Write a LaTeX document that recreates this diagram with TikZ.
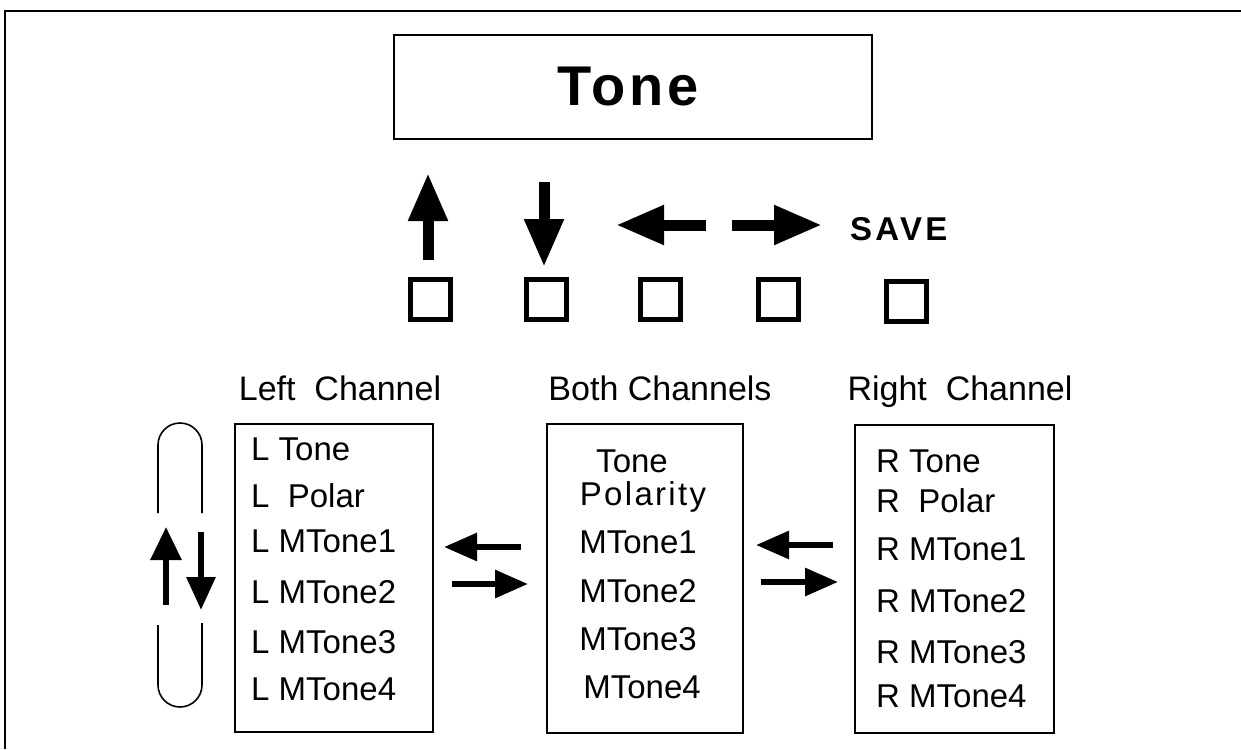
\documentclass[tikz,border=0pt]{standalone}
\usepackage{fontspec}
\setmainfont{Liberation Sans}
\usetikzlibrary{arrows.meta}
\begin{document}
\begin{tikzpicture}[x=1pt,y=-1pt,
  frame/.style={line width=2pt},
  box/.style={draw,line width=1.6pt,inner sep=0pt},
  key/.style={draw,line width=5pt,minimum size=40pt,inner sep=0pt},
  bigarrow/.style={line width=11pt,-{Triangle[width=37pt,length=48pt]}},
  smallarrow/.style={line width=6pt,-{Triangle[width=27pt,length=33pt]}},
  item/.style={anchor=base west,inner sep=0pt,font=\fontsize{33}{39}\selectfont},
  citem/.style={anchor=base,inner sep=0pt,font=\fontsize{33}{39}\selectfont},
  hdr/.style={anchor=base,inner sep=0pt,font=\fontsize{34}{40}\selectfont},
]
\useasboundingbox (0,0) rectangle (1241,749);
\fill[white] (0,0) rectangle (1241,749);
% frame
\coordinate (fbl) at (5,749);
\coordinate (ftl) at (5,11);
\coordinate (ftr) at (1241,11);
\draw[frame] (fbl) -- (ftl) -- (ftr);

% title
\node[box,line width=2.5pt,minimum width=478pt,minimum height=104pt] (title) at (633,87) {};
\node[font=\fontsize{56}{66}\selectfont\bfseries\addfontfeature{LetterSpace=7}] (titletxt) at (628,87) {Tone};

% big arrows
\coordinate (upA) at (428,260); \coordinate (upB) at (428,173);
\coordinate (dnA) at (544,182); \coordinate (dnB) at (544,267);
\coordinate (ltA) at (706,225); \coordinate (ltB) at (616,225);
\coordinate (rtA) at (732,225); \coordinate (rtB) at (822,225);
\draw[bigarrow] (upA) -- (upB);
\draw[bigarrow] (dnA) -- (dnB);
\draw[bigarrow] (ltA) -- (ltB);
\draw[bigarrow] (rtA) -- (rtB);
\node[anchor=base west,inner sep=0pt,font=\fontsize{33}{40}\selectfont\bfseries\addfontfeature{LetterSpace=10}] (save) at (850,240) {SAVE};

% keys
\node[key] (k1) at (430,299) {};
\node[key] (k2) at (546,299) {};
\node[key] (k3) at (660,299) {};
\node[key] (k4) at (778,299) {};
\node[key] (k5) at (906,301) {};

% headers
\node[hdr] (hl) at (340,400) {Left\ \ Channel};
\node[hdr] (hb) at (660,400) {Both Channels};
\node[hdr] (hr) at (960,400) {Right\ \ Channel};

% boxes
\node[box,minimum width=198pt,minimum height=308pt] (lbox) at (334,578) {};
\node[box,minimum width=196pt,minimum height=309pt] (bbox) at (645,578.5) {};
\node[box,minimum width=199pt,minimum height=308pt] (rbox) at (954.5,579) {};

% left items
\node[item] (l1) at (251,460) {L Tone};
\node[item] (l2) at (251,507) {L\ \ Polar};
\node[item] (l3) at (251,552) {L MTone1};
\node[item] (l4) at (251,603) {L MTone2};
\node[item] (l5) at (251,653) {L MTone3};
\node[item] (l6) at (251,700) {L MTone4};

% both items
\node[citem] (b1) at (632,472) {Tone};
\node[citem,font=\fontsize{33}{39}\selectfont\addfontfeature{LetterSpace=7}] (b2) at (643,505) {Polarity};
\node[citem] (b3) at (638,553) {MTone1};
\node[citem] (b4) at (638,602) {MTone2};
\node[citem] (b5) at (638,650) {MTone3};
\node[citem] (b6) at (642,698) {MTone4};

% right items
\node[item] (r1) at (876,472) {R Tone};
\node[item] (r2) at (876,512) {R\ \ Polar};
\node[item] (r3) at (876,560) {R MTone1};
\node[item] (r4) at (876,612) {R MTone2};
\node[item] (r5) at (876,663) {R MTone3};
\node[item] (r6) at (876,707) {R MTone4};

% small arrows between boxes
\coordinate (a1s) at (521,547); \coordinate (a1e) at (444,547);
\coordinate (a2s) at (452,584); \coordinate (a2e) at (528,584);
\coordinate (a3s) at (833,545); \coordinate (a3e) at (756,545);
\coordinate (a4s) at (761,582); \coordinate (a4e) at (838,582);
\draw[smallarrow] (a1s) -- (a1e);
\draw[smallarrow] (a2s) -- (a2e);
\draw[smallarrow] (a3s) -- (a3e);
\draw[smallarrow] (a4s) -- (a4e);

% scroll loop
\coordinate (o1) at (158,513); \coordinate (o2) at (202,513);
\coordinate (o3) at (158,625); \coordinate (o4) at (202,623);
\draw[line width=1.6pt] (o1) -- (158,445) arc[start angle=180,end angle=0,radius=22pt] -- (o2);
\draw[line width=1.6pt] (o3) -- (158,685) arc[start angle=180,end angle=360,radius=22pt] -- (o4);
\coordinate (vuA) at (166,605); \coordinate (vuB) at (166,527);
\coordinate (vdA) at (201,532); \coordinate (vdB) at (201,610);
\draw[smallarrow,-{Triangle[width=30pt,length=33pt]}] (vuA) -- (vuB);
\draw[smallarrow,-{Triangle[width=28pt,length=33pt]}] (vdA) -- (vdB);
\end{tikzpicture}
\end{document}
